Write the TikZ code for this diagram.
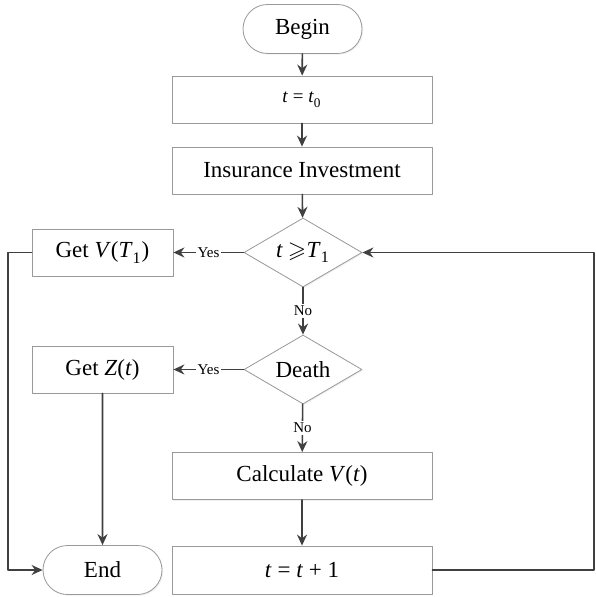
\documentclass[tikz,border=0pt]{standalone}
\usepackage{fontspec}
\setmainfont{Liberation Serif}
\usepackage{unicode-math}
\setmathfont{Latin Modern Math}
\usetikzlibrary{shapes.geometric,shapes.misc,shadows,arrows.meta}

\newcommand{\itv}[1]{\textit{#1}}

\begin{document}
\begin{tikzpicture}[
  x=0.5pt,
  y=-0.5pt,
  line cap=round,
  line join=round,
  flow box/.style={draw=black!40, line width=0.4pt, fill=white,
    rectangle, inner sep=0pt, font=\fontsize{11.5}{13}\selectfont,
    drop shadow={opacity=0.12, shadow xshift=0.6pt, shadow yshift=-0.6pt}},
  flow term/.style={flow box, rounded rectangle},
  flow test/.style={flow box, diamond, aspect=1.7},
  flow arrow/.style={-{Stealth[length=5.5pt,width=5pt]}, draw=black!75,
    line width=0.8pt},
  flow label/.style={font=\fontsize{7.5}{9}\selectfont, fill=white,
    inner sep=1pt}
]
  \useasboundingbox (0,0) rectangle (595,597);

  % Main column of the flow chart.
  \node[flow term, minimum width=59.5pt, minimum height=24.5pt]
    (begin) at (302.5,29) {Begin};
  \node[flow box, minimum width=130pt, minimum height=23.5pt,
    font=\fontsize{9.5}{11}\selectfont]
    (init) at (302,99.5) {\itv{t} = \itv{t}\textsubscript{0}};
  \node[flow box, minimum width=130pt, minimum height=23.5pt]
    (invest) at (302,170.5) {Insurance Investment};
  \node[flow test, minimum width=59pt, minimum height=34.5pt]
    (check) at (303,252.5) {\itv{t} $\geqslant$\itv{T}\textsubscript{1}};
  \node[flow test, minimum width=59pt, minimum height=34.5pt]
    (death) at (303,369.5) {Death};
  \node[flow box, minimum width=130pt, minimum height=23.5pt]
    (calc) at (302,476) {Calculate \itv{V}(\itv{t})};
  \node[flow box, minimum width=130pt, minimum height=24pt]
    (incr) at (302,570) {\itv{t} = \itv{t} + 1};

  % Side column with the results.
  \node[flow box, minimum width=70.5pt, minimum height=23.5pt]
    (getV) at (102.5,252.5) {Get \itv{V}(\itv{T}\textsubscript{1})};
  \node[flow box, minimum width=70.5pt, minimum height=23.5pt]
    (getZ) at (102.5,369.5) {Get \itv{Z}(\itv{t})};
  \node[flow term, minimum width=59.5pt, minimum height=24.5pt]
    (end) at (102.5,570) {End};

  % Turning points of the two long connectors.
  \coordinate (loopR) at (594,570);
  \coordinate (loopL) at (8,252.5);

  \draw[flow arrow] (begin) -- (init);
  \draw[flow arrow] (init) -- (invest);
  \draw[flow arrow] (invest) -- (check);
  \draw[flow arrow] (check) -- node[flow label] {No} (death);
  \draw[flow arrow] (death) -- node[flow label] {No} (calc);
  \draw[flow arrow] (calc) -- (incr);
  \draw[flow arrow] (check) -- node[flow label] {Yes} (getV);
  \draw[flow arrow] (death) -- node[flow label] {Yes} (getZ);
  \draw[flow arrow] (getZ) -- (end);
  \draw[flow arrow] (incr.east) -- (loopR) |- (check.east);
  \draw[flow arrow] (getV.west) -- (loopL) |- (end.west);
\end{tikzpicture}
\end{document}
